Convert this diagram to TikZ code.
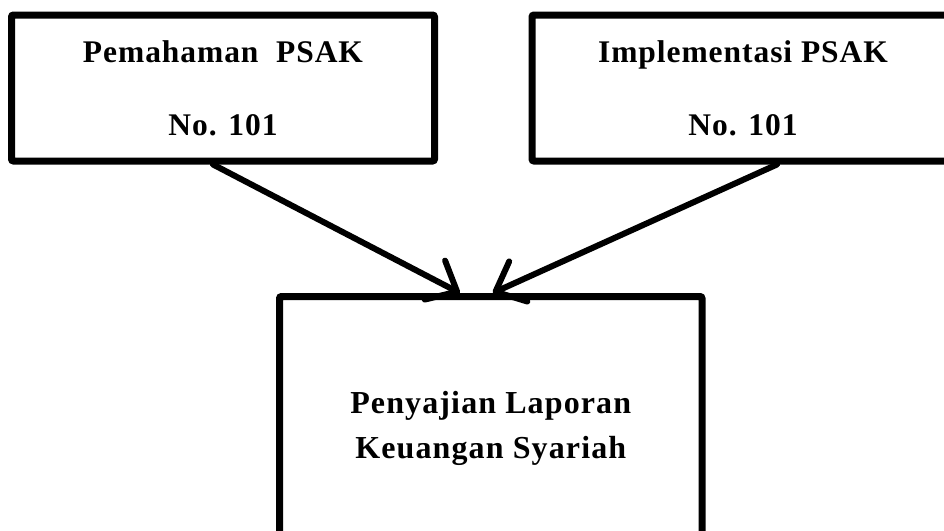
\documentclass[tikz,border=0pt]{standalone}
\usepackage{fontspec}
\setmainfont{Liberation Serif}
\usetikzlibrary{arrows.meta}
\tikzset{
  topbox/.style={draw=black, line width=7pt, rounded corners=2pt, fill=white,
    minimum width=423pt, minimum height=146pt, inner sep=0pt, align=center,
    font=\fontsize{31.5}{73}\selectfont\bfseries\addfontfeatures{LetterSpace=3}},
  mainbox/.style={draw=black, line width=7pt, rounded corners=2pt, fill=white,
    minimum width=422.5pt, minimum height=264pt, inner sep=0pt, align=center,
    font=\fontsize{32}{45}\selectfont\bfseries\addfontfeatures{LetterSpace=3.5}},
  link/.style={line width=6pt, line cap=round,
    -{Straight Barb[length=25pt,width=44pt,round]}}
}
\begin{document}
\begin{tikzpicture}[x=1pt,y=-1pt]
\clip (0,0) rectangle (944,530);
\fill[white] (0,0) rectangle (944,530);
\node[topbox] (L) at (223,88) {Pemahaman\ \ PSAK\\No. 101};
\node[topbox, minimum width=422pt] (R) at (743,88) {Implementasi PSAK\\No. 101};
\node[mainbox] (B) at (490.75,428.5) {Penyajian Laporan\\Keuangan Syariah};
\draw[link] ([xshift=-10pt]L.south) -- ([xshift=-31pt]B.north);
\draw[link] ([xshift=34pt]R.south) -- ([xshift=2pt]B.north);
\end{tikzpicture}
\end{document}
